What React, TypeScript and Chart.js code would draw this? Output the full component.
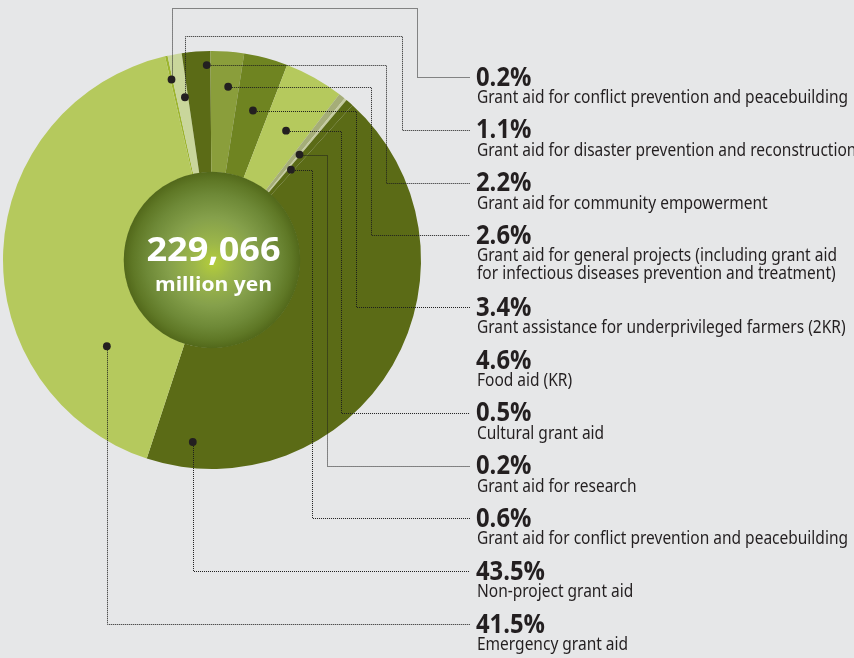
import React, { useEffect, useRef } from 'react';
import { Chart, registerables } from 'chart.js';

Chart.register(...registerables);

// ---- data ----
const percents = [0.2, 1.1, 2.2, 2.6, 3.4, 4.6, 0.5, 0.2, 0.6, 43.5, 41.5];
const categories: string[][] = [
  ['Grant aid for conflict prevention and peacebuilding'],
  ['Grant aid for disaster prevention and reconstruction'],
  ['Grant aid for community empowerment'],
  ['Grant aid for general projects (including grant aid', 'for infectious diseases prevention and treatment)'],
  ['Grant assistance for underprivileged farmers (2KR)'],
  ['Food aid (KR)'],
  ['Cultural grant aid'],
  ['Grant aid for research'],
  ['Grant aid for conflict prevention and peacebuilding'],
  ['Non-project grant aid'],
  ['Emergency grant aid'],
];
const sliceColors = ['#9db52f', '#c9d69b', '#5b6b16', '#8a9e3b', '#6f8421', '#b5c95d', '#a5ad78', '#c5cb9e', '#5b6b16', '#5b6b16', '#b5c95d'];
const totalLabel = '229,066';
const unitLabel = 'million yen';

// leader annotations: which label, anchored on which slice (fraction along the arc, radius px)
type Leader = { label: number; slice: number; t: number; r: number; route: 'up' | 'right' | 'down'; top?: number; elbow?: number };
const leaders: Leader[] = [
  { label: 0, slice: 0, t: 0.5, r: 185, route: 'up', top: 8, elbow: 417 },
  { label: 1, slice: 1, t: 0.72, r: 165, route: 'up', top: 36, elbow: 402 },
  { label: 2, slice: 2, t: 0.86, r: 195, route: 'right', elbow: 386 },
  { label: 3, slice: 3, t: 0.62, r: 174, route: 'right', elbow: 371 },
  { label: 4, slice: 4, t: 0.53, r: 155, route: 'right', elbow: 356 },
  { label: 6, slice: 5, t: 0.53, r: 149, route: 'right', elbow: 341 },
  { label: 7, slice: 7, t: 0.5, r: 137, route: 'right', elbow: 327 },
  { label: 8, slice: 8, t: 0.5, r: 120, route: 'right', elbow: 312 },
  { label: 9, slice: 9, t: 0.922, r: 183, route: 'down' },
  { label: 10, slice: 10, t: 0.218, r: 136, route: 'down' },
];

const BG = '#e6e7e8';
const TEXT = '#231f20';
const LABEL_X = 477;
const LEADER_END = 470;
const FIRST_Y = 76;
const STEP = 52.8;
const EXTRA_LINE = 19;

const PCT_FONT = 'bold 26px "Open Sans"';
const SUB_FONT = '18px "Noto Sans"';

function labelCenters(): number[] {
  const ys: number[] = [];
  let y = FIRST_Y;
  categories.forEach((c) => {
    ys.push(y);
    y += STEP + EXTRA_LINE * (c.length - 1);
  });
  return ys;
}

function scaledText(ctx: CanvasRenderingContext2D, text: string, x: number, y: number, font: string, sx: number, align: CanvasTextAlign = 'left') {
  ctx.save();
  ctx.font = font;
  ctx.textAlign = align;
  ctx.textBaseline = 'alphabetic';
  ctx.translate(x, y);
  ctx.scale(sx, 1);
  ctx.fillText(text, 0, 0);
  ctx.restore();
}

function scaleFor(ctx: CanvasRenderingContext2D, font: string, ref: string, target: number) {
  ctx.save();
  ctx.font = font;
  const w = ctx.measureText(ref).width;
  ctx.restore();
  return w > 0 ? target / w : 1;
}

const overlay = {
  id: 'overlay',
  beforeDraw(chart: any) {
    const ctx = chart.ctx as CanvasRenderingContext2D;
    ctx.save();
    ctx.fillStyle = BG;
    ctx.fillRect(0, 0, chart.width, chart.height);
    ctx.restore();
  },
  afterDatasetsDraw(chart: any) {
    const ctx = chart.ctx as CanvasRenderingContext2D;
    const meta = chart.getDatasetMeta(0);
    const a0 = meta.data[0].getProps(['x', 'y', 'innerRadius'], true);
    const cx = a0.x, cy = a0.y;

    // center disc
    const R = a0.innerRadius + 0.5;
    const g = ctx.createRadialGradient(cx + 1, cy + 3, 0, cx, cy, R);
    g.addColorStop(0, '#b4cd3a');
    g.addColorStop(0.22, '#9cb64a');
    g.addColorStop(0.5, '#85a04b');
    g.addColorStop(0.75, '#6e8937');
    g.addColorStop(0.9, '#5f7826');
    g.addColorStop(1, '#52681a');
    ctx.save();
    ctx.beginPath();
    ctx.arc(cx, cy, R, 0, Math.PI * 2);
    ctx.fillStyle = g;
    ctx.fill();
    ctx.restore();

    ctx.fillStyle = '#ffffff';
    const f1 = 'bold 34px "Open Sans"';
    scaledText(ctx, totalLabel, cx + 1.5, cy + 0.5, f1, scaleFor(ctx, f1, totalLabel, 134), 'center');
    const f2 = 'bold 19px "Open Sans"';
    scaledText(ctx, unitLabel, cx + 1.5, cy + 31, f2, scaleFor(ctx, f2, unitLabel, 117), 'center');

    const ys = labelCenters();

    // leaders
    ctx.save();
    ctx.strokeStyle = '#1e1e1e';
    ctx.lineWidth = 1;
    ctx.setLineDash([1, 1]);
    const px = (v: number) => Math.round(v) + 0.5;
    const dots: [number, number][] = [];
    leaders.forEach((L) => {
      const p = meta.data[L.slice].getProps(['x', 'y', 'startAngle', 'endAngle'], true);
      const ang = p.startAngle + L.t * (p.endAngle - p.startAngle);
      const dx = p.x + L.r * Math.cos(ang);
      const dy = p.y + L.r * Math.sin(ang);
      dots.push([dx, dy]);
      const ly = px(ys[L.label] + 1);
      ctx.beginPath();
      if (L.route === 'up') {
        ctx.moveTo(px(dx), dy);
        ctx.lineTo(px(dx), px(L.top!));
        ctx.lineTo(px(L.elbow!), px(L.top!));
        ctx.lineTo(px(L.elbow!), ly);
        ctx.lineTo(LEADER_END, ly);
      } else if (L.route === 'right') {
        ctx.moveTo(dx, px(dy));
        ctx.lineTo(px(L.elbow!), px(dy));
        ctx.lineTo(px(L.elbow!), ly);
        ctx.lineTo(LEADER_END, ly);
      } else {
        ctx.moveTo(px(dx), dy);
        ctx.lineTo(px(dx), ly);
        ctx.lineTo(LEADER_END, ly);
      }
      ctx.stroke();
    });
    ctx.restore();

    ctx.save();
    ctx.fillStyle = TEXT;
    dots.forEach(([x, y]) => {
      ctx.beginPath();
      ctx.arc(x, y, 3.9, 0, Math.PI * 2);
      ctx.fill();
    });
    ctx.restore();

    // labels
    const pctSx = scaleFor(ctx, PCT_FONT, '43.5%', 69);
    const subSx = scaleFor(ctx, SUB_FONT, 'Grant aid for conflict prevention and peacebuilding', 371);
    ctx.save();
    ctx.fillStyle = TEXT;
    categories.forEach((lines, i) => {
      const y = ys[i];
      scaledText(ctx, percents[i].toFixed(1) + '%', LABEL_X - 1, y + 9.5, PCT_FONT, pctSx);
      lines.forEach((ln, j) => {
        scaledText(ctx, ln, LABEL_X, y + 27 + j * 18, SUB_FONT, subSx);
      });
    });
    ctx.restore();
  },
};

export default function App() {
  const ref = useRef<HTMLCanvasElement>(null);
  useEffect(() => {
    document.body.style.margin = '0';
    document.body.style.background = BG;
    if (!ref.current) return;
    const chart = new Chart(ref.current, {
      type: 'doughnut',
      data: {
        labels: categories.map((c) => c.join(' ')),
        datasets: [
          {
            data: percents,
            backgroundColor: sliceColors,
            borderWidth: 0,
          },
        ],
      },
      options: {
        responsive: false,
        animation: false,
        rotation: -13,
        cutout: '42%',
        events: [],
        layout: { padding: { left: 2, top: 51, right: 432, bottom: 189 } },
        plugins: { legend: { display: false }, tooltip: { enabled: false } },
      },
      plugins: [overlay],
    } as any);
    return () => chart.destroy();
  }, []);
  return (
    <div style={{ width: 854, height: 658, background: BG }}>
      <canvas ref={ref} width={854} height={658} style={{ display: 'block' }} />
    </div>
  );
}
